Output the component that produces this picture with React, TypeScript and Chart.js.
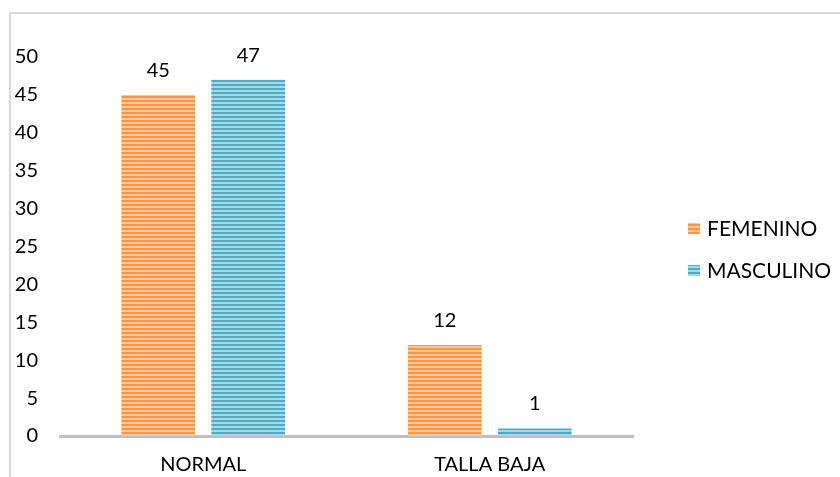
import React, { useEffect, useRef } from "react";
import { Chart, registerables } from "chart.js";

Chart.register(...registerables);

const categories = ["NORMAL", "TALLA BAJA"];
const seriesNames = ["FEMENINO", "MASCULINO"];
const femenino = [45, 12];
const masculino = [47, 1];
const yTicks = [0, 5, 10, 15, 20, 25, 30, 35, 40, 45, 50];

const FONT = "Lato, 'Open Sans', sans-serif";

function stripes(dark: string, light: string): CanvasPattern | string {
  const c = document.createElement("canvas");
  c.width = 4;
  c.height = 4;
  const ctx = c.getContext("2d");
  if (!ctx) return dark;
  ctx.fillStyle = light;
  ctx.fillRect(0, 0, 4, 4);
  ctx.fillStyle = dark;
  ctx.fillRect(0, 0, 4, 2);
  return ctx.createPattern(c, "repeat") || dark;
}

export default function App() {
  const ref = useRef<HTMLCanvasElement | null>(null);

  useEffect(() => {
    if (!ref.current) return;
    const orange = stripes("#F79646", "#FBC597");
    const blue = stripes("#4BACC6", "#A9D8E5");
    const swatches = [orange, blue];

    const frame = {
      id: "frame",
      beforeDraw(chart: any) {
        const ctx = chart.ctx;
        ctx.save();
        ctx.strokeStyle = "#D9D9D9";
        ctx.lineWidth = 2;
        ctx.beginPath();
        ctx.moveTo(10, 477);
        ctx.lineTo(10, 13);
        ctx.lineTo(840, 13);
        ctx.stroke();
        ctx.restore();
      },
    };

    const valueLabels = {
      id: "valueLabels",
      afterDatasetsDraw(chart: any) {
        const ctx = chart.ctx;
        ctx.save();
        ctx.font = `20px ${FONT}`;
        ctx.fillStyle = "#000";
        ctx.textAlign = "center";
        ctx.textBaseline = "alphabetic";
        chart.data.datasets.forEach((ds: any, i: number) => {
          const meta = chart.getDatasetMeta(i);
          meta.data.forEach((bar: any, j: number) => {
            ctx.fillText(String(ds.data[j]), bar.x, bar.y - 18);
          });
        });
        ctx.restore();
      },
    };

    const sideLegend = {
      id: "sideLegend",
      afterDraw(chart: any) {
        const ctx = chart.ctx;
        ctx.save();
        ctx.font = `21px ${FONT}`;
        ctx.textBaseline = "middle";
        ctx.textAlign = "left";
        seriesNames.forEach((name, i) => {
          const cy = 228 + i * 42;
          ctx.fillStyle = swatches[i] as any;
          ctx.fillRect(688, cy - 5, 12, 11);
          ctx.fillStyle = "#000";
          ctx.fillText(name, 707, cy + 1);
        });
        ctx.restore();
      },
    };

    const chart = new Chart(ref.current, {
      type: "bar",
      data: {
        labels: categories,
        datasets: [
          { label: seriesNames[0], data: femenino, backgroundColor: orange as any },
          { label: seriesNames[1], data: masculino, backgroundColor: blue as any },
        ],
      },
      options: {
        animation: false,
        responsive: false,
        layout: { padding: { top: 57, right: 207, bottom: 0, left: 0 } },
        datasets: {
          bar: { categoryPercentage: 0.628, barPercentage: 0.82 },
        },
        plugins: {
          legend: { display: false },
          tooltip: { enabled: false },
        },
        scales: {
          x: {
            afterFit(scale: any) {
              scale.height = 41;
            },
            grid: { display: false, drawTicks: false },
            border: { color: "#BFBFBF", width: 3 },
            ticks: { color: "#000", font: { family: FONT, size: 20 }, padding: 17 },
          },
          y: {
            min: 0,
            max: 50,
            afterBuildTicks(scale: any) {
              scale.ticks = yTicks.map((v) => ({ value: v }));
            },
            afterFit(scale: any) {
              scale.width = 60;
            },
            grid: { display: false, drawTicks: false },
            border: { display: false },
            ticks: { color: "#000", font: { family: FONT, size: 20 }, padding: 22 },
          },
        },
      },
      plugins: [frame, valueLabels, sideLegend],
    });
    return () => chart.destroy();
  }, []);

  return (
    <div style={{ position: "fixed", left: 0, top: 0, width: 840, height: 477, background: "#fff" }}>
      <canvas ref={ref} width={840} height={477} style={{ display: "block" }} />
    </div>
  );
}
